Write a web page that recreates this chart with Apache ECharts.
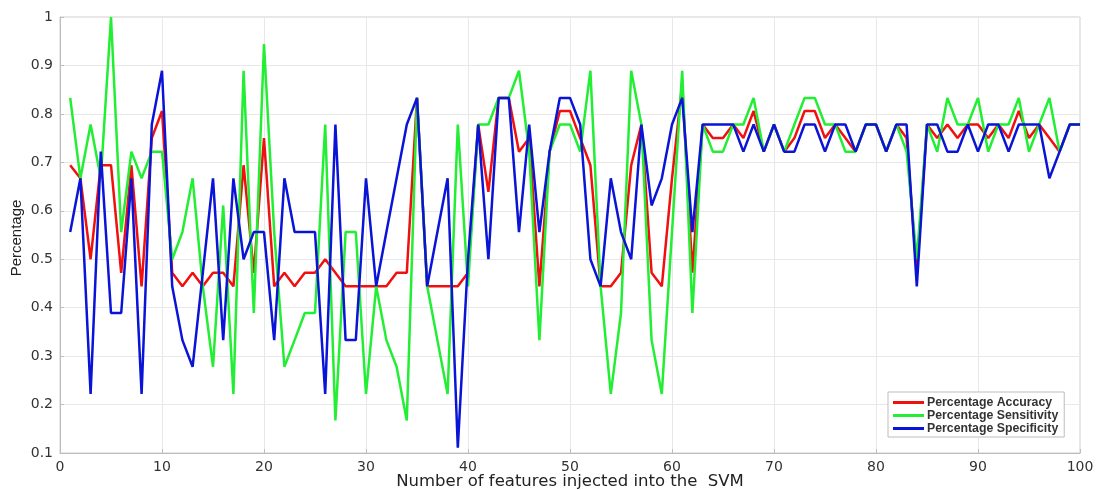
<!DOCTYPE html>
<html>
<head>
<meta charset="utf-8">
<script src="https://cdn.jsdelivr.net/npm/echarts@6/dist/echarts.min.js"></script>
<style>
  html, body { margin: 0; padding: 0; background: #fff; }
  #main { width: 1103px; height: 490px; }
</style>
</head>
<body>
<div id="main"></div>
<script>
// number of features (x)
var features = [1,2,3,4,5,6,7,8,9,10,11,12,13,14,15,16,17,18,19,20,
  21,22,23,24,25,26,27,28,29,30,31,32,33,34,35,36,37,38,39,40,
  41,42,43,44,45,46,47,48,49,50,51,52,53,54,55,56,57,58,59,60,
  61,62,63,64,65,66,67,68,69,70,71,72,73,74,75,76,77,78,79,80,
  81,82,83,84,85,86,87,88,89,90,91,92,93,94,95,96,97,98,99,100];

var accuracy = [0.694,0.667,0.5,0.694,0.694,0.472,0.694,0.444,0.75,0.806,
  0.472,0.444,0.472,0.444,0.472,0.472,0.444,0.694,0.472,0.75,
  0.444,0.472,0.444,0.472,0.472,0.5,0.472,0.444,0.444,0.444,
  0.444,0.444,0.472,0.472,0.833,0.444,0.444,0.444,0.444,0.472,
  0.778,0.639,0.833,0.833,0.722,0.75,0.444,0.722,0.806,0.806,
  0.75,0.694,0.444,0.444,0.472,0.694,0.778,0.472,0.444,0.667,
  0.861,0.472,0.778,0.75,0.75,0.778,0.75,0.806,0.722,0.778,
  0.722,0.75,0.806,0.806,0.75,0.778,0.75,0.722,0.778,0.778,
  0.722,0.778,0.75,0.472,0.778,0.75,0.778,0.75,0.778,0.778,
  0.75,0.778,0.75,0.806,0.75,0.778,0.75,0.722,0.778,0.778];

var sensitivity = [0.833,0.667,0.778,0.667,1.0,0.556,0.722,0.667,0.722,0.722,
  0.5,0.556,0.667,0.444,0.278,0.611,0.222,0.889,0.389,0.944,
  0.556,0.278,0.333,0.389,0.389,0.778,0.167,0.556,0.556,0.222,
  0.444,0.333,0.278,0.167,0.833,0.444,0.333,0.222,0.778,0.444,
  0.778,0.778,0.833,0.833,0.889,0.722,0.333,0.722,0.778,0.778,
  0.722,0.889,0.444,0.222,0.389,0.889,0.778,0.333,0.222,0.556,
  0.889,0.389,0.778,0.722,0.722,0.778,0.778,0.833,0.722,0.778,
  0.722,0.778,0.833,0.833,0.778,0.778,0.722,0.722,0.778,0.778,
  0.722,0.778,0.722,0.5,0.778,0.722,0.833,0.778,0.778,0.833,
  0.722,0.778,0.778,0.833,0.722,0.778,0.833,0.722,0.778,0.778];

var specificity = [0.556,0.667,0.222,0.722,0.389,0.389,0.667,0.222,0.778,0.889,
  0.444,0.333,0.278,0.472,0.667,0.333,0.667,0.5,0.556,0.556,
  0.333,0.667,0.556,0.556,0.556,0.222,0.778,0.333,0.333,0.667,
  0.444,0.556,0.667,0.778,0.833,0.444,0.556,0.667,0.111,0.5,
  0.778,0.5,0.833,0.833,0.556,0.778,0.556,0.722,0.833,0.833,
  0.778,0.5,0.444,0.667,0.556,0.5,0.778,0.611,0.667,0.778,
  0.833,0.556,0.778,0.778,0.778,0.778,0.722,0.778,0.722,0.778,
  0.722,0.722,0.778,0.778,0.722,0.778,0.778,0.722,0.778,0.778,
  0.722,0.778,0.778,0.444,0.778,0.778,0.722,0.722,0.778,0.722,
  0.778,0.778,0.722,0.778,0.778,0.778,0.667,0.722,0.778,0.778];

function pairs(ys) {
  return features.map(function (x, i) { return [x, ys[i]]; });
}

var chart = echarts.init(document.getElementById('main'));

var option = {
  animation: false,
  backgroundColor: '#fff',
  grid: {
    left: 60, right: 23, top: 17, bottom: 37,
    outerBoundsMode: 'none',
    show: true, borderColor: '#cfcfcf', borderWidth: 1
  },
  // axis titles placed by hand (axis name kept getting pushed off the canvas)
  graphic: [
    {
      type: 'text', x: 570, y: 482,
      style: {
        text: 'Number of features injected into the  SVM',
        fontFamily: 'DejaVu Sans', fontSize: 16.5, fill: '#222',
        align: 'center', verticalAlign: 'middle'
      }
    },
    {
      type: 'text', x: 17, y: 238, rotation: Math.PI / 2,
      style: {
        text: 'Percentage',
        fontFamily: 'Liberation Sans', fontSize: 15, fill: '#222',
        align: 'center', verticalAlign: 'middle'
      }
    }
  ],
  legend: {
    orient: 'vertical',
    left: 888, top: 392,
    padding: [4, 6, 2, 5],
    itemGap: 0,
    itemWidth: 31, itemHeight: 3,
    backgroundColor: '#fff',
    borderColor: '#bdbdbd', borderWidth: 1,
    icon: 'rect',
    textStyle: { fontFamily: 'Liberation Sans', fontWeight: 'bold', fontSize: 12.3, lineHeight: 13, color: '#333', padding: [0, 0, 0, -2] },
    data: ['Percentage Accuracy', 'Percentage Sensitivity', 'Percentage Specificity']
  },
  xAxis: {
    type: 'value', min: 0, max: 100, interval: 10,
    axisLine: { lineStyle: { color: '#bdbdbd' } },
    axisTick: { inside: true, length: 4, lineStyle: { color: '#bdbdbd' } },
    axisLabel: { fontFamily: 'DejaVu Sans', fontSize: 14, color: '#333', margin: 7 },
    splitLine: { lineStyle: { color: '#e8e8e8' } }
  },
  yAxis: {
    type: 'value', min: 0.1, max: 1, interval: 0.1,
    axisLine: { show: true, lineStyle: { color: '#bdbdbd' } },
    axisTick: { show: true, inside: true, length: 4, lineStyle: { color: '#bdbdbd' } },
    axisLabel: {
      fontFamily: 'DejaVu Sans', fontSize: 14, color: '#333', margin: 7,
      formatter: function (v) { return +v.toFixed(1) + ''; }
    },
    splitLine: { lineStyle: { color: '#e8e8e8' } }
  },
  series: [
    {
      name: 'Percentage Accuracy', type: 'line', data: pairs(accuracy),
      showSymbol: false, color: '#f01010',
      lineStyle: { width: 2.5, color: '#f01010' }
    },
    {
      name: 'Percentage Sensitivity', type: 'line', data: pairs(sensitivity),
      showSymbol: false, color: '#22ee33',
      lineStyle: { width: 2.5, color: '#22ee33' }
    },
    {
      name: 'Percentage Specificity', type: 'line', data: pairs(specificity),
      showSymbol: false, color: '#0a14d6',
      lineStyle: { width: 2.5, color: '#0a14d6' }
    }
  ]
};

chart.setOption(option);
</script>
</body>
</html>
